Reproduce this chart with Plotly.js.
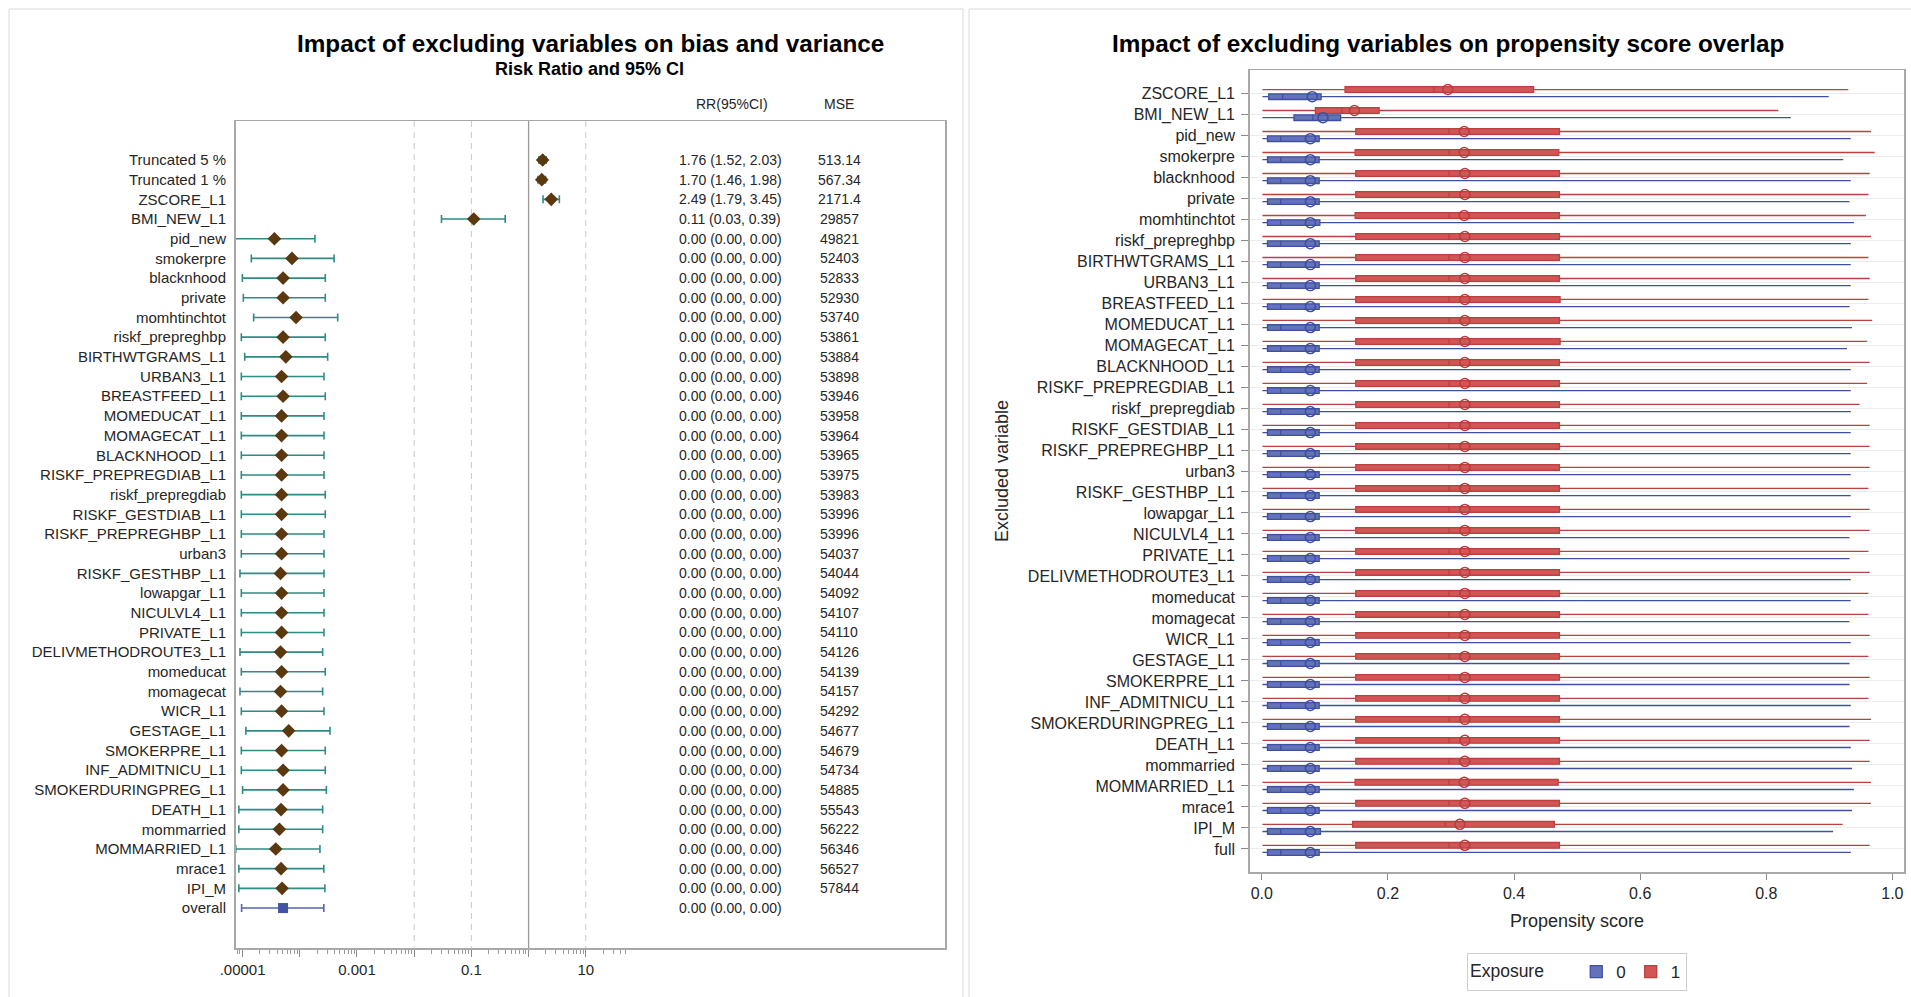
<!DOCTYPE html>
<html><head><meta charset="utf-8">
<script src="https://cdn.plot.ly/plotly-3.0.1.min.js"></script>
<style>html,body{margin:0;padding:0;background:#fff;} #chart{width:1911px;height:997px;}</style>
</head><body><div id="chart"></div>
<script>
// ---------- Left panel data (forest plot) ----------
const forestLabels = ['Truncated 5 %','Truncated 1 %','ZSCORE_L1','BMI_NEW_L1','pid_new','smokerpre','blacknhood','private','momhtinchtot','riskf_prepreghbp','BIRTHWTGRAMS_L1','URBAN3_L1','BREASTFEED_L1','MOMEDUCAT_L1','MOMAGECAT_L1','BLACKNHOOD_L1','RISKF_PREPREGDIAB_L1','riskf_prepregdiab','RISKF_GESTDIAB_L1','RISKF_PREPREGHBP_L1','urban3','RISKF_GESTHBP_L1','lowapgar_L1','NICULVL4_L1','PRIVATE_L1','DELIVMETHODROUTE3_L1','momeducat','momagecat','WICR_L1','GESTAGE_L1','SMOKERPRE_L1','INF_ADMITNICU_L1','SMOKERDURINGPREG_L1','DEATH_L1','mommarried','MOMMARRIED_L1','mrace1','IPI_M','overall'];
const rrEstimate = [1.76,1.70,2.49,0.11,3.6e-5,7.3e-5,5.1e-5,5.1e-5,8.6e-5,5.1e-5,5.7e-5,4.8e-5,5.1e-5,4.8e-5,4.8e-5,4.8e-5,4.8e-5,4.8e-5,4.8e-5,4.8e-5,4.8e-5,4.6e-5,4.8e-5,4.8e-5,4.8e-5,4.6e-5,4.8e-5,4.6e-5,4.8e-5,6.4e-5,4.8e-5,5.1e-5,5.1e-5,4.7e-5,4.4e-5,3.8e-5,4.7e-5,4.9e-5,5.1e-5];
const rrLower = [1.52,1.46,1.79,0.03,5.0e-6,1.42e-5,9.9e-6,1.03e-5,1.56e-5,9.5e-6,1.09e-5,9.5e-6,9.5e-6,9.5e-6,9.5e-6,9.5e-6,9.5e-6,9.5e-6,9.5e-6,9.5e-6,9.5e-6,9.0e-6,9.5e-6,9.5e-6,9.5e-6,9.0e-6,9.5e-6,9.0e-6,9.5e-6,1.14e-5,9.5e-6,9.5e-6,1.0e-5,8.6e-6,8.6e-6,7.6e-6,8.6e-6,8.6e-6,9.6e-6];
const rrUpper = [2.03,1.98,3.45,0.39,1.84e-4,3.98e-4,2.79e-4,2.79e-4,4.6e-4,2.79e-4,3.07e-4,2.65e-4,2.79e-4,2.65e-4,2.65e-4,2.65e-4,2.65e-4,2.79e-4,2.79e-4,2.65e-4,2.65e-4,2.65e-4,2.65e-4,2.65e-4,2.65e-4,2.51e-4,2.79e-4,2.51e-4,2.65e-4,3.37e-4,2.79e-4,2.79e-4,2.91e-4,2.51e-4,2.51e-4,2.25e-4,2.63e-4,2.75e-4,2.63e-4];
const rrText = ['1.76 (1.52, 2.03)','1.70 (1.46, 1.98)','2.49 (1.79, 3.45)','0.11 (0.03, 0.39)'].concat(Array(35).fill('0.00 (0.00, 0.00)'));
const mseText = ['513.14','567.34','2171.4','29857','49821','52403','52833','52930','53740','53861','53884','53898','53946','53958','53964','53965','53975','53983','53996','53996','54037','54044','54092','54107','54110','54126','54139','54157','54292','54677','54679','54734','54885','55543','56222','56346','56527','57844',''];
const forestTickVals = [1e-5,1e-4,1e-3,1e-2,0.1,1,10];
const forestTickText = ['.00001','','0.001','','0.1','','10'];
const forestRefDashed = [0.01,0.1,10];
const forestRefSolid = [1];

// ---------- Right panel data (propensity score boxes) ----------
const psCategories = ['ZSCORE_L1','BMI_NEW_L1','pid_new','smokerpre','blacknhood','private','momhtinchtot','riskf_prepreghbp','BIRTHWTGRAMS_L1','URBAN3_L1','BREASTFEED_L1','MOMEDUCAT_L1','MOMAGECAT_L1','BLACKNHOOD_L1','RISKF_PREPREGDIAB_L1','riskf_prepregdiab','RISKF_GESTDIAB_L1','RISKF_PREPREGHBP_L1','urban3','RISKF_GESTHBP_L1','lowapgar_L1','NICULVL4_L1','PRIVATE_L1','DELIVMETHODROUTE3_L1','momeducat','momagecat','WICR_L1','GESTAGE_L1','SMOKERPRE_L1','INF_ADMITNICU_L1','SMOKERDURINGPREG_L1','DEATH_L1','mommarried','MOMMARRIED_L1','mrace1','IPI_M','full'];
// Exposure = 1 (red)
const exp1Min = [0.001,0.001,0.001,0.001,0.001,0.001,0.001,0.001,0.001,0.001,0.001,0.001,0.001,0.001,0.001,0.001,0.001,0.001,0.001,0.001,0.001,0.001,0.001,0.001,0.001,0.001,0.001,0.001,0.001,0.001,0.001,0.001,0.001,0.001,0.001,0.001,0.001];
const exp1Q1 = [0.132,0.085,0.149,0.148,0.149,0.149,0.148,0.149,0.149,0.149,0.149,0.149,0.149,0.149,0.149,0.149,0.149,0.149,0.149,0.149,0.149,0.149,0.149,0.149,0.149,0.149,0.149,0.149,0.149,0.149,0.149,0.149,0.149,0.148,0.149,0.144,0.149];
const exp1Median = [0.273,0.127,0.297,0.297,0.297,0.297,0.297,0.297,0.297,0.297,0.297,0.297,0.297,0.297,0.297,0.297,0.297,0.297,0.297,0.297,0.297,0.297,0.297,0.297,0.297,0.297,0.297,0.297,0.297,0.297,0.297,0.297,0.297,0.297,0.297,0.291,0.297];
const exp1Q3 = [0.431,0.186,0.472,0.471,0.472,0.472,0.472,0.472,0.472,0.472,0.473,0.472,0.473,0.472,0.472,0.472,0.472,0.472,0.472,0.472,0.472,0.472,0.472,0.472,0.472,0.472,0.472,0.472,0.472,0.472,0.472,0.472,0.472,0.470,0.472,0.464,0.472];
const exp1Max = [0.930,0.819,0.966,0.972,0.964,0.962,0.958,0.966,0.962,0.964,0.962,0.968,0.960,0.964,0.960,0.948,0.964,0.964,0.964,0.962,0.964,0.964,0.962,0.964,0.962,0.962,0.964,0.962,0.964,0.962,0.966,0.964,0.964,0.966,0.966,0.921,0.964];
const exp1Mean = [0.295,0.147,0.321,0.321,0.322,0.322,0.321,0.322,0.322,0.322,0.322,0.322,0.322,0.322,0.322,0.322,0.322,0.322,0.322,0.322,0.322,0.322,0.322,0.322,0.322,0.322,0.322,0.322,0.322,0.322,0.322,0.322,0.322,0.321,0.322,0.314,0.322];
// Exposure = 0 (blue)
const exp0Min = [0.001,0.001,0.001,0.001,0.001,0.001,0.001,0.001,0.001,0.001,0.001,0.001,0.001,0.001,0.001,0.001,0.001,0.001,0.001,0.001,0.001,0.001,0.001,0.001,0.001,0.001,0.001,0.001,0.001,0.001,0.001,0.001,0.001,0.001,0.001,0.001,0.001];
const exp0Q1 = [0.011,0.051,0.009,0.009,0.009,0.009,0.009,0.009,0.009,0.009,0.009,0.009,0.009,0.009,0.009,0.009,0.009,0.009,0.009,0.009,0.009,0.009,0.009,0.009,0.009,0.009,0.009,0.009,0.009,0.009,0.009,0.009,0.009,0.009,0.009,0.009,0.009];
const exp0Median = [0.033,0.081,0.030,0.030,0.030,0.030,0.030,0.030,0.030,0.030,0.030,0.030,0.030,0.030,0.030,0.030,0.030,0.030,0.030,0.030,0.030,0.030,0.030,0.030,0.030,0.030,0.030,0.030,0.030,0.030,0.030,0.030,0.030,0.030,0.030,0.030,0.030];
const exp0Q3 = [0.094,0.125,0.091,0.091,0.091,0.091,0.092,0.091,0.091,0.091,0.091,0.091,0.091,0.091,0.091,0.091,0.091,0.091,0.091,0.091,0.091,0.091,0.091,0.091,0.091,0.091,0.091,0.091,0.091,0.091,0.091,0.091,0.091,0.091,0.091,0.093,0.091];
const exp0Max = [0.899,0.839,0.934,0.922,0.934,0.932,0.939,0.934,0.934,0.934,0.932,0.936,0.928,0.934,0.934,0.934,0.934,0.934,0.934,0.934,0.934,0.932,0.932,0.934,0.934,0.932,0.934,0.932,0.932,0.934,0.932,0.934,0.936,0.939,0.936,0.906,0.934];
const exp0Mean = [0.080,0.097,0.077,0.077,0.077,0.077,0.077,0.077,0.077,0.077,0.077,0.077,0.077,0.077,0.077,0.077,0.077,0.077,0.077,0.077,0.077,0.077,0.077,0.077,0.077,0.077,0.077,0.077,0.077,0.077,0.077,0.077,0.077,0.077,0.077,0.077,0.077];
const psTicks = [0,0.2,0.4,0.6,0.8,1.0];

// ---------- Build figure ----------
const W = 1911, H = 997;
const px = v => v / W, py = v => 1 - v / H;
const FONT = 'Liberation Sans, Arial, Helvetica, sans-serif';
const TXT = '#262626';

const fIdx = forestLabels.map((_, i) => i);
const mainIdx = fIdx.filter(i => forestLabels[i] !== 'overall');
const ovIdx = fIdx.filter(i => forestLabels[i] === 'overall');

const traces = [];
const yTopF = -1.98, yBotF = 40.03;
forestRefDashed.forEach(v => traces.push({x:[v,v], y:[yTopF,yBotF], mode:'lines', xaxis:'x', yaxis:'y', line:{color:'#c8c8c8', width:1, dash:'6px,5px'}, hoverinfo:'skip', showlegend:false}));
forestRefSolid.forEach(v => traces.push({x:[v,v], y:[yTopF,yBotF], mode:'lines', xaxis:'x', yaxis:'y', line:{color:'#9a9a9a', width:1.3}, hoverinfo:'skip', showlegend:false}));

traces.push({
  type:'scatter', mode:'markers', xaxis:'x', yaxis:'y', showlegend:false,
  x: mainIdx.map(i => rrEstimate[i]), y: mainIdx,
  error_x:{type:'data', symmetric:false, array: mainIdx.map(i => rrUpper[i]-rrEstimate[i]), arrayminus: mainIdx.map(i => rrEstimate[i]-rrLower[i]), color:'#2f8c84', thickness:1.6, width:4},
  marker:{symbol:'diamond', size:10.5, color:'#5a3810', line:{width:0}}
});
traces.push({
  type:'scatter', mode:'markers', xaxis:'x', yaxis:'y', showlegend:false,
  x: ovIdx.map(i => rrEstimate[i]), y: ovIdx,
  error_x:{type:'data', symmetric:false, array: ovIdx.map(i => rrUpper[i]-rrEstimate[i]), arrayminus: ovIdx.map(i => rrEstimate[i]-rrLower[i]), color:'#5664b0', thickness:1.6, width:4},
  marker:{symbol:'square', size:10, color:'#4452a4', line:{width:0}}
});

const pIdx = psCategories.map((_, i) => i);
const OFF = 0.17;
traces.push({
  type:'box', orientation:'h', name:'0', xaxis:'x2', yaxis:'y2',
  y: pIdx.map(i => i + OFF), q1: exp0Q1, median: exp0Median, q3: exp0Q3, lowerfence: exp0Min, upperfence: exp0Max,
  width:0.27, whiskerwidth:0, fillcolor:'#6372ba', line:{color:'#4050a0', width:1.3}, boxpoints:false, hoverinfo:'skip'
});
traces.push({
  type:'box', orientation:'h', name:'1', xaxis:'x2', yaxis:'y2',
  y: pIdx.map(i => i - OFF), q1: exp1Q1, median: exp1Median, q3: exp1Q3, lowerfence: exp1Min, upperfence: exp1Max,
  width:0.27, whiskerwidth:0, fillcolor:'#d35656', line:{color:'#bb4040', width:1.3}, boxpoints:false, hoverinfo:'skip'
});
traces.push({type:'scatter', mode:'markers', xaxis:'x2', yaxis:'y2', showlegend:false, hoverinfo:'skip',
  x: exp0Mean, y: pIdx.map(i => i + OFF), marker:{symbol:'circle-open', size:10, color:'#3d4d9e', line:{width:1.5}}});
traces.push({type:'scatter', mode:'markers', xaxis:'x2', yaxis:'y2', showlegend:false, hoverinfo:'skip',
  x: exp1Mean, y: pIdx.map(i => i - OFF), marker:{symbol:'circle-open', size:10, color:'#b83a3a', line:{width:1.5}}});

const minorVals = [8e-6, 9e-6];
for (let e = -5; e <= 0; e++) for (let m = 2; m <= 9; m++) minorVals.push(m * Math.pow(10, e));
[20,30,40,50].forEach(v => minorVals.push(v));

const annotations = [];
fIdx.forEach(i => {
  annotations.push({xref:'paper', yref:'y', x:px(730), y:i, text:rrText[i], showarrow:false, xanchor:'center', yanchor:'middle', font:{size:14, color:TXT, family:FONT}});
  if (mseText[i]) annotations.push({xref:'paper', yref:'y', x:px(839), y:i, text:mseText[i], showarrow:false, xanchor:'center', yanchor:'middle', font:{size:14, color:TXT, family:FONT}});
});
annotations.push({xref:'paper', yref:'paper', x:px(732), y:py(104), text:'RR(95%CI)', showarrow:false, xanchor:'center', yanchor:'middle', font:{size:14, color:TXT, family:FONT}});
annotations.push({xref:'paper', yref:'paper', x:px(839), y:py(104), text:'MSE', showarrow:false, xanchor:'center', yanchor:'middle', font:{size:14, color:TXT, family:FONT}});
annotations.push({xref:'paper', yref:'paper', x:px(590), y:py(43), text:'<b>Impact of excluding variables on bias and variance</b>', showarrow:false, xanchor:'center', yanchor:'middle', font:{size:24.3, color:'#000', family:FONT}});
annotations.push({xref:'paper', yref:'paper', x:px(589), y:py(68.5), text:'<b>Risk Ratio and 95% CI</b>', showarrow:false, xanchor:'center', yanchor:'middle', font:{size:18, color:'#000', family:FONT}});
annotations.push({xref:'paper', yref:'paper', x:px(1448), y:py(43), text:'<b>Impact of excluding variables on propensity score overlap</b>', showarrow:false, xanchor:'center', yanchor:'middle', font:{size:24.3, color:'#000', family:FONT}});
annotations.push({xref:'paper', yref:'paper', x:px(1577), y:py(921), text:'Propensity score', showarrow:false, xanchor:'center', yanchor:'middle', font:{size:18, color:TXT, family:FONT}});
annotations.push({xref:'paper', yref:'paper', x:px(1002), y:py(471), text:'Excluded variable', textangle:-90, showarrow:false, xanchor:'center', yanchor:'middle', font:{size:18, color:TXT, family:FONT}});

const shapes = [
  {type:'rect', xref:'paper', yref:'paper', x0:px(9), x1:px(963), y0:-0.05, y1:py(9), line:{color:'#dadada', width:1}, fillcolor:'rgba(0,0,0,0)', layer:'below'},
  {type:'rect', xref:'paper', yref:'paper', x0:px(969), x1:1.05, y0:-0.05, y1:py(9), line:{color:'#dadada', width:1}, fillcolor:'rgba(0,0,0,0)', layer:'below'}
];

const layout = {
  width:W, height:H, margin:{l:0, r:0, t:0, b:0}, paper_bgcolor:'#fff', plot_bgcolor:'#fff',
  font:{family:FONT, color:TXT}, showlegend:true, boxmode:'overlay',
  xaxis:{type:'log', domain:[px(235.5), px(945)], range:[-5.124, 7.28], anchor:'y',
    tickmode:'array', tickvals:forestTickVals, ticktext:forestTickText, ticks:'outside', ticklen:7, tickcolor:'#8a8a8a', tickwidth:1,
    minor:{tickmode:'array', tickvals:minorVals, ticks:'outside', ticklen:4, tickcolor:'#9a9a9a', tickwidth:1, showgrid:false},
    showline:true, linecolor:'#a8a8a8', linewidth:1.5, mirror:true, showgrid:false, zeroline:false,
    tickfont:{size:15, color:TXT, family:FONT}},
  yaxis:{domain:[py(948), py(121)], range:[yBotF, yTopF], anchor:'x',
    tickmode:'array', tickvals:fIdx, ticktext:forestLabels, ticks:'outside', ticklen:5, tickcolor:'rgba(0,0,0,0)',
    showline:true, linecolor:'#a8a8a8', linewidth:1.5, mirror:true, showgrid:false, zeroline:false,
    tickfont:{size:15, color:TXT, family:FONT}},
  xaxis2:{domain:[px(1249.7), px(1904)], range:[-0.0192, 1.0184], anchor:'y2',
    tickmode:'array', tickvals:psTicks, tickformat:'.1f', ticks:'outside', ticklen:6, tickcolor:'#8a8a8a',
    showline:true, linecolor:'#a8a8a8', linewidth:1.5, mirror:true, showgrid:false, zeroline:false,
    tickfont:{size:16, color:TXT, family:FONT}},
  yaxis2:{domain:[py(872), py(70)], range:[37.1, -1.1], anchor:'x2',
    tickmode:'array', tickvals:pIdx, ticktext:psCategories, ticks:'outside', ticklen:7, tickcolor:'#8a8a8a', ticklabelstandoff:3,
    showline:true, linecolor:'#a8a8a8', linewidth:1.5, mirror:true, showgrid:true, gridcolor:'#ececec', gridwidth:1, zeroline:false,
    tickfont:{size:16, color:TXT, family:FONT}},
  legend:{orientation:'h', x:px(1577), xanchor:'center', y:py(953), yanchor:'top', bordercolor:'#cfcfcf', borderwidth:1, bgcolor:'#fff',
    font:{size:17, color:TXT, family:FONT}, title:{text:'Exposure     ', side:'left', font:{size:17.5, color:TXT, family:FONT}}, traceorder:'normal'},
  annotations: annotations, shapes: shapes
};

Plotly.newPlot('chart', traces, layout, {displayModeBar:false, staticPlot:true});
</script></body></html>
